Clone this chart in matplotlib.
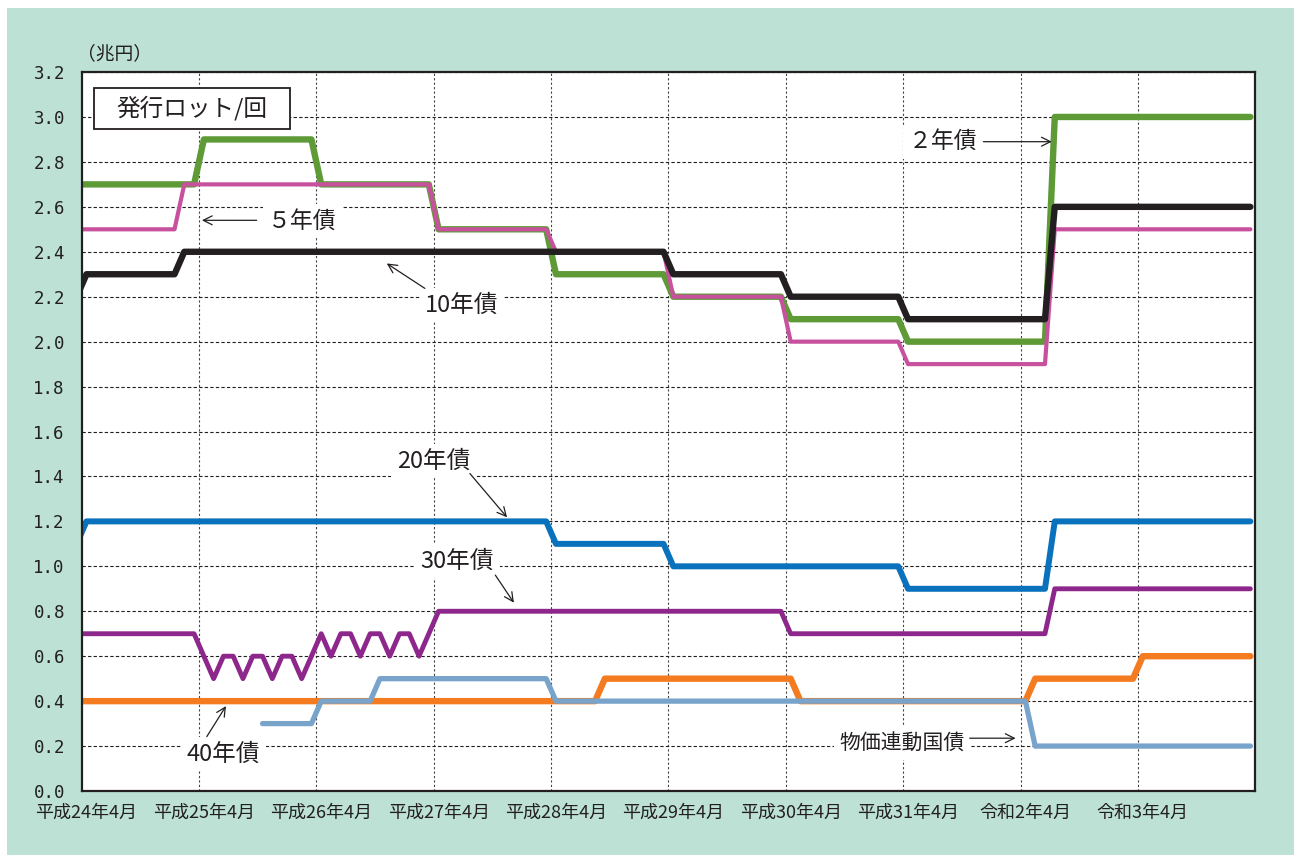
import numpy as np
import matplotlib
matplotlib.use('Agg')
import matplotlib.pyplot as plt
from matplotlib.patches import Rectangle

plt.rcParams['font.family'] = ['Noto Sans CJK JP', 'DejaVu Sans']

# month index: -1 = 平成24年3月, 0 = 平成24年4月 ... 119 = 令和4年3月
months = np.arange(-1, 120)

# run-length data: (value, number of months)
bond2_vals = [2.7, 2.9, 2.7, 2.5, 2.3, 2.2, 2.1, 2.0, 3.0]
bond2_runs = [13, 12, 12, 12, 12, 12, 12, 15, 21]

bond5_vals = [2.5, 2.7, 2.5, 2.4, 2.2, 2.0, 1.9, 2.5]
bond5_runs = [11, 26, 12, 12, 12, 12, 15, 21]

bond10_vals = [2.2, 2.3, 2.4, 2.3, 2.2, 2.1, 2.6]
bond10_runs = [1, 10, 50, 12, 12, 15, 21]

bond20_vals = [1.1, 1.2, 1.1, 1.0, 0.9, 1.2]
bond20_runs = [1, 48, 12, 24, 15, 21]

bond30_vals = ([0.7] + [0.6, 0.5, 0.6, 0.6, 0.5, 0.6, 0.6, 0.5, 0.6, 0.6, 0.5]
               + [0.6, 0.7, 0.6, 0.7, 0.7, 0.6, 0.7, 0.7, 0.6, 0.7, 0.7, 0.6, 0.7]
               + [0.8, 0.7, 0.9])
bond30_runs = [13] + [1] * 11 + [1] * 13 + [36, 27, 21]

bond40_vals = [0.4, 0.5, 0.4, 0.5, 0.6]
bond40_runs = [54, 20, 24, 11, 12]

linker_vals = [np.nan, 0.3, 0.4, 0.5, 0.4, 0.2]
linker_runs = [19, 6, 6, 18, 49, 23]

xlabels = ['平成24年4月', '平成25年4月', '平成26年4月', '平成27年4月', '平成28年4月',
           '平成29年4月', '平成30年4月', '平成31年4月', '令和2年4月', '令和3年4月']


def expand(vals, runs):
    return np.repeat(vals, runs)


fig = plt.figure(figsize=(12.94, 8.55), dpi=100)
fig.patch.set_facecolor('white')
fig.patches.append(Rectangle((7 / 1294, 0), 1, 1 - 8 / 855, transform=fig.transFigure,
                             facecolor='#BDE2D5', edgecolor='none', zorder=-10))

ax = fig.add_axes([0.06306, 0.07485, 0.9070, 0.8409])
ax.set_facecolor('white')

kw = dict(solid_capstyle='round', solid_joinstyle='round')
ax.plot(months, expand(bond40_vals, bond40_runs), color='#F47B20', lw=4.6, zorder=3, **kw)
ax.plot(months, expand(linker_vals, linker_runs), color='#78A3CA', lw=3.8, zorder=3, **kw)
ax.plot(months, expand(bond30_vals, bond30_runs), color='#8E278C', lw=3.5, zorder=3, **kw)
ax.plot(months, expand(bond20_vals, bond20_runs), color='#0A72BC', lw=4.3, zorder=3, **kw)
ax.plot(months, expand(bond2_vals, bond2_runs), color='#5E9A36', lw=4.6, zorder=3, **kw)
ax.plot(months, expand(bond5_vals, bond5_runs), color='#C8519E', lw=3.0, zorder=3, **kw)
ax.plot(months, expand(bond10_vals, bond10_runs), color='#231F20', lw=4.6, zorder=3, **kw)

ax.set_xlim(-0.5, 119.5)
ax.set_ylim(0, 3.2)

ax.set_yticks(np.arange(0, 3.21, 0.2))
ax.set_yticklabels([f'{v:.1f}' for v in np.arange(0, 3.21, 0.2)],
                   family='DejaVu Sans Mono', fontsize=12.5, color='#231F20')
ax.set_xticks(np.arange(0, 120, 12))
ax.set_xticklabels(xlabels, fontsize=13, color='#231F20')
ax.set_xticks(np.arange(11.5, 119, 12), minor=True)
ax.tick_params(axis='both', which='both', length=0)
ax.tick_params(axis='x', pad=9)
ax.tick_params(axis='y', pad=12)

ax.grid(axis='y', which='major', color='#231F20', lw=0.8, linestyle=(0, (3, 2)))
ax.grid(axis='x', which='minor', color='#444444', lw=0.8, linestyle=(0, (2, 2)))
ax.set_axisbelow(True)

for s in ax.spines.values():
    s.set_linewidth(1.6)
    s.set_color('#231F20')
    s.set_zorder(5)

fig.text(115 / 1294, 1 - 54 / 855, '（兆円）', fontsize=13.5, ha='center', va='center',
         color='#231F20')

# title box
ax.add_patch(Rectangle((0.0108, 0.9203), 0.167, 0.0579, transform=ax.transAxes,
                       facecolor='white', edgecolor='#231F20', lw=1.3, zorder=6))
ax.text(0.0941, 0.9492, '発行ロット/回', transform=ax.transAxes, fontsize=17,
        ha='center', va='center', color='#231F20', zorder=7)

tc = '#231F20'
box = dict(facecolor='white', edgecolor='none', pad=4)
arrow = dict(arrowstyle='->', lw=0.9, color=tc, mutation_scale=16, shrinkA=0, shrinkB=0)

labels = [
    ('５年債', (22.1, 2.537), (17.4, 2.54), (11.8, 2.54), 16.5),
    ('10年債', (38.4, 2.163), (34.6, 2.237), (30.7, 2.348), 17),
    ('２年債', (87.6, 2.89), (91.7, 2.89), (98.7, 2.89), 16.5),
    ('20年債', (35.5, 1.469), (39.2, 1.413), (43.0, 1.218), 17),
    ('30年債', (37.9, 1.024), (41.8, 0.961), (43.7, 0.838), 17),
    ('40年債', (14.0, 0.165), (12.3, 0.242), (14.26, 0.378), 17),
    ('物価連動国債', (83.4, 0.214), (90.3, 0.235), (95.0, 0.235), 15),
]
for txt, pos, tail, head, fs in labels:
    ax.text(pos[0], pos[1], txt, fontsize=fs, ha='center', va='center', color=tc,
            bbox=box, zorder=4)
    ax.annotate('', xy=head, xytext=tail, arrowprops=arrow, zorder=4)

fig.savefig('out.png', dpi=100)
